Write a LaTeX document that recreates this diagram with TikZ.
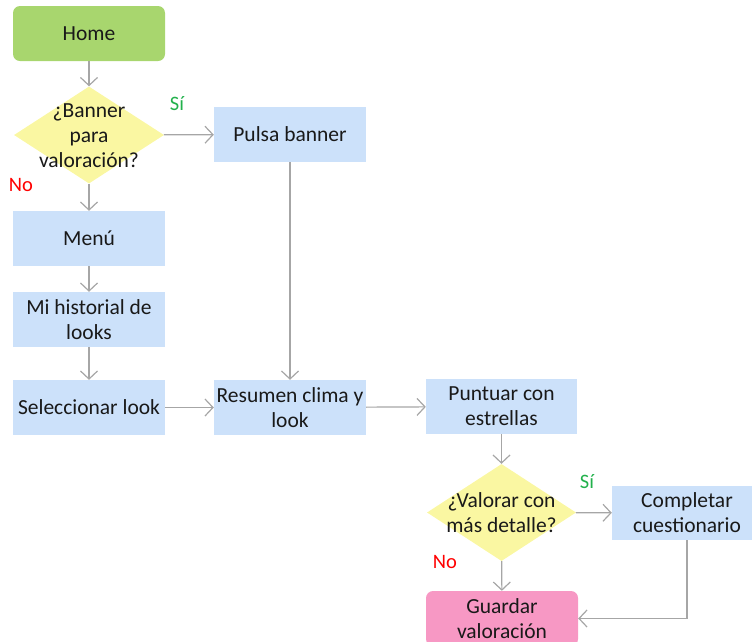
\documentclass[tikz,border=0pt]{standalone}
\usepackage{fontspec}
\setmainfont{Carlito}
\usetikzlibrary{shapes.geometric,arrows.meta}
\definecolor{hgreen}{RGB}{168,214,110}
\definecolor{boxblue}{RGB}{204,225,250}
\definecolor{diayellow}{RGB}{250,247,162}
\definecolor{hpink}{RGB}{247,152,196}
\definecolor{arrgray}{RGB}{166,166,166}
\definecolor{txt}{RGB}{25,25,25}
\definecolor{sigreen}{RGB}{34,177,76}
\definecolor{nored}{RGB}{255,0,0}
\begin{document}
\begin{tikzpicture}[x=1pt,y=-1pt,
  mainfont/.style={font=\fontsize{21.5}{25}\selectfont, text=txt},
  box/.style={rectangle, fill=boxblue, minimum width=152pt, minimum height=55pt, inner sep=0pt, align=center, mainfont},
  rbox/.style={box, rounded corners=7pt},
  dia/.style={diamond, fill=diayellow, minimum width=150pt, minimum height=97pt, inner sep=0pt},
  diatext/.style={align=center, inner sep=0pt, mainfont},
  arr/.style={draw=arrgray, line width=1.2pt, -{Straight Barb[length=8pt,width=17pt,line width=1.2pt]}},
  lab/.style={inner sep=0pt, font=\fontsize{20.5}{24}\selectfont}
]
\useasboundingbox (0,0) rectangle (752,641);
\clip (0,0) rectangle (752,641);

\node[rbox, fill=hgreen] (home) at (89,33.5) {Home};
\node[dia] (d1) at (89,135) {};
\node[diatext] (d1t) at (89,136) {¿Banner\\para\\valoración?};
\node[box] (pulsa) at (290,134.5) {Pulsa banner};
\node[box] (menu) at (89,238.5) {Menú};
\node[box] (hist) at (89,319.5) {Mi historial de\\looks};
\node[box] (sel) at (89,407.5) {Seleccionar look};
\node[box] (res) at (290,407.5) {Resumen clima y\\look};
\node[box, minimum width=151pt] (punt) at (501.5,406.5) {Puntuar con\\estrellas};
\node[dia, minimum width=149pt, minimum height=97pt] (d2) at (501.5,512.5) {};
\node[diatext] (d2t) at (501.5,513) {¿Valorar con\\más detalle?};
\node[box, minimum width=150pt, minimum height=54pt] (comp) at (687,513) {Completar\\cuestionario};
\node[rbox, fill=hpink] (guard) at (502,618.5) {Guardar\\valoración};

\node[lab, text=sigreen] (si1) at (177,104) {Sí};
\node[lab, text=nored] (no1) at (21,185) {No};
\node[lab, text=sigreen] (si2) at (587,482) {Sí};
\node[lab, text=nored] (no2) at (445,562) {No};

\draw[arr] (home) -- (d1);
\draw[arr] (d1) -- (pulsa);
\draw[arr] (d1) -- (menu);
\draw[arr] (menu) -- (hist);
\draw[arr] (hist) -- (sel);
\draw[arr] (sel) -- (res);
\draw[arr] (pulsa) -- (res);
\draw[arr] (res) -- (punt);
\draw[arr] (punt) -- (d2);
\draw[arr] (d2) -- (comp);
\draw[arr] (d2) -- (guard);
\draw[arr] (comp.south) |- (guard.east);
\end{tikzpicture}
\end{document}
